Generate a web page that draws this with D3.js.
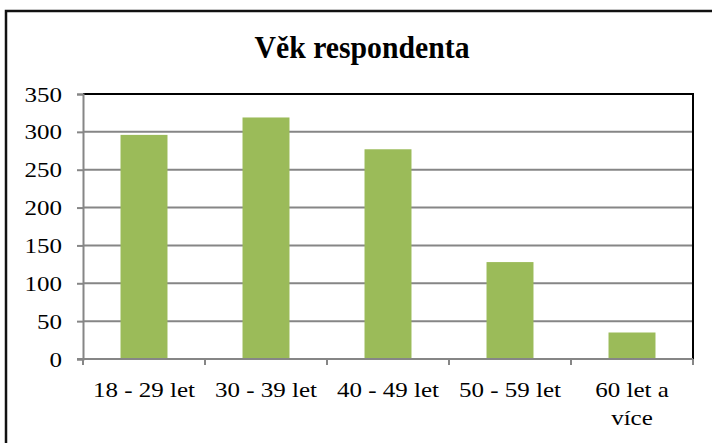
<!DOCTYPE html>
<html>
<head>
<meta charset="utf-8">
<script src="https://cdn.jsdelivr.net/npm/d3@7/dist/d3.min.js"></script>
<style>
  body { margin: 0; background: #fff; }
  text { font-family: "Liberation Serif", "Times New Roman", serif; fill: #000; }
</style>
</head>
<body>
<svg id="chart" width="712" height="443"></svg>
<script>
const title = 'Věk respondenta';
const categories = ['18 - 29 let', '30 - 39 let', '40 - 49 let', '50 - 59 let', '60 let a\nvíce'];
const values = [296, 319, 277, 128, 35];
const yTicks = [0, 50, 100, 150, 200, 250, 300, 350];

const svg = d3.select('#chart');
const plot = { left: 83, right: 693, top: 94, bottom: 359 };
const gridColor = '#868686';
const stretch = 1.19; // labels in the picture are wider than the font

function widen(sel, k) {
  sel.each(function () {
    const w = this.getComputedTextLength();
    d3.select(this).attr('textLength', w * k).attr('lengthAdjust', 'spacingAndGlyphs');
  });
}

// outer frame
svg.append('rect')
  .attr('x', 6).attr('y', 11)
  .attr('width', 720).attr('height', 450)
  .attr('fill', 'none').attr('stroke', '#111').attr('stroke-width', 2.5);

svg.append('text')
  .attr('x', 362).attr('y', 58)
  .attr('text-anchor', 'middle')
  .style('font-size', '32px').style('font-weight', 'bold')
  .attr('textLength', 215).attr('lengthAdjust', 'spacingAndGlyphs')
  .text(title);

const y = d3.scaleLinear().domain([0, 350]).range([plot.bottom, plot.top]);
const x = d3.scaleBand().domain(categories).range([plot.left, plot.right])
  .paddingInner(0.615).paddingOuter(0.3075);
const xb = d3.scaleLinear().domain([0, categories.length]).range([plot.left, plot.right]);

// gridlines
svg.append('g')
  .selectAll('line')
  .data(yTicks.filter(d => d > 0 && d < 350))
  .enter().append('line')
  .attr('x1', plot.left).attr('x2', plot.right)
  .attr('y1', d => y(d)).attr('y2', d => y(d))
  .attr('stroke', gridColor).attr('stroke-width', 2);

// plot border: top and right in black
svg.append('path')
  .attr('d', `M${plot.left},${plot.top}H${plot.right}V${plot.bottom}`)
  .attr('fill', 'none').attr('stroke', '#000').attr('stroke-width', 2);

// bars
svg.append('g')
  .selectAll('rect')
  .data(values)
  .enter().append('rect')
  .attr('x', (d, i) => x(categories[i]))
  .attr('y', d => y(d))
  .attr('width', x.bandwidth())
  .attr('height', d => y(0) - y(d))
  .attr('fill', '#9bbb59');

// y axis
const yAxis = svg.append('g')
  .attr('transform', `translate(${plot.left},0)`)
  .call(d3.axisLeft(y).tickValues(yTicks).tickSize(6).tickPadding(15));
yAxis.select('.domain').attr('stroke', gridColor).attr('stroke-width', 2);
yAxis.selectAll('.tick line').attr('stroke', gridColor).attr('stroke-width', 2);
yAxis.selectAll('.tick text')
  .style('font-size', '21px').style('font-family', '"Liberation Serif", serif')
  .attr('fill', '#000').attr('dy', '0.34em')
  .call(widen, stretch);

// x axis line and boundary ticks
svg.append('line')
  .attr('x1', plot.left - 6).attr('x2', plot.right)
  .attr('y1', plot.bottom).attr('y2', plot.bottom)
  .attr('stroke', gridColor).attr('stroke-width', 2);
svg.append('g')
  .selectAll('line')
  .data(d3.range(categories.length + 1))
  .enter().append('line')
  .attr('x1', d => xb(d)).attr('x2', d => xb(d))
  .attr('y1', plot.bottom).attr('y2', plot.bottom + 6)
  .attr('stroke', gridColor).attr('stroke-width', 2);

// category labels
const xl = svg.append('g')
  .selectAll('text')
  .data(categories)
  .enter().append('text')
  .attr('x', d => x(d) + x.bandwidth() / 2)
  .attr('y', 397)
  .attr('text-anchor', 'middle')
  .style('font-size', '21px');
xl.selectAll('tspan')
  .data(d => d.split('\n').map((t, i) => ({ t, i, c: d })))
  .enter().append('tspan')
  .attr('x', d => x(d.c) + x.bandwidth() / 2)
  .attr('y', d => 397 + d.i * 28)
  .text(d => d.t)
  .call(widen, stretch);
</script>
</body>
</html>
